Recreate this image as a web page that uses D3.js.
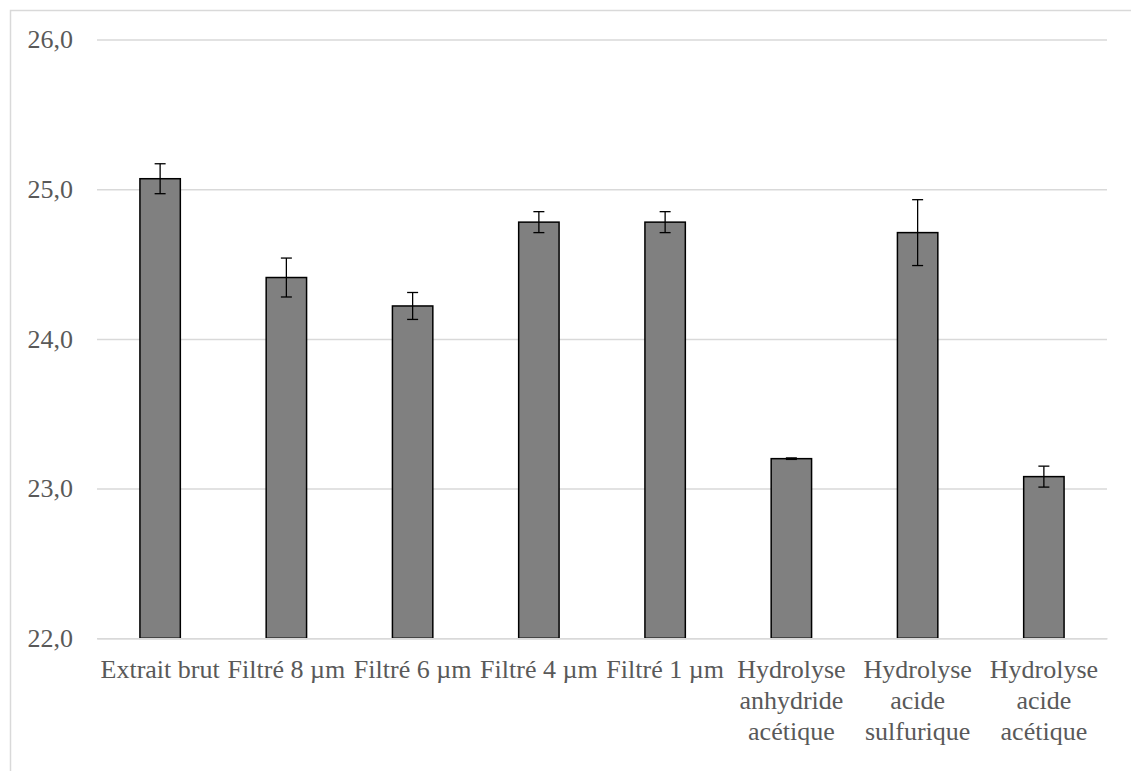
<!DOCTYPE html>
<html>
<head>
<meta charset="utf-8">
<script src="https://cdn.jsdelivr.net/npm/d3@7"></script>
<style>
  html, body { margin: 0; padding: 0; background: #fff; }
  svg { display: block; }
  svg text { font-family: "Liberation Serif", "Times New Roman", Times, serif; }
</style>
</head>
<body>
<svg id="chart" width="1131" height="771"></svg>
<script>
const categories = [
  "Extrait brut",
  "Filtré 8 µm",
  "Filtré 6 µm",
  "Filtré 4 µm",
  "Filtré 1 µm",
  "Hydrolyse\nanhydride\nacétique",
  "Hydrolyse\nacide\nsulfurique",
  "Hydrolyse\nacide\nacétique"
];
const values = [25.07, 24.41, 24.22, 24.78, 24.78, 23.20, 24.71, 23.08];
const errors = [0.10, 0.13, 0.09, 0.07, 0.07, 0.005, 0.22, 0.07];
const yTicks = [22, 23, 24, 25, 26];

const data = categories.map((c, i) => ({ cat: c, value: values[i], err: errors[i] }));

const svg = d3.select("#chart");
const plot = { left: 97, right: 1107, top: 39.5, bottom: 638.3 };
const textColor = "#595959";
const gridColor = "#d9d9d9";
const font = "\"Liberation Serif\", \"Times New Roman\", Times, serif";

// outer chart border
svg.append("rect")
  .attr("x", 10.5).attr("y", 10.5)
  .attr("width", 1135).attr("height", 775)
  .attr("fill", "#fff")
  .attr("stroke", gridColor).attr("stroke-width", 1.5);

const x = d3.scaleBand()
  .domain(categories)
  .range([plot.left, plot.right])
  .paddingInner(0.68)
  .paddingOuter(0.34);

const y = d3.scaleLinear()
  .domain([22, 26])
  .range([plot.bottom, plot.top]);

const locale = d3.formatLocale({ decimal: ",", thousands: " ", grouping: [3], currency: ["", "€"] });
const fmt = locale.format(".1f");

// gridlines + y labels via axis
const yAxis = d3.axisLeft(y)
  .tickValues(yTicks)
  .tickSize(-(plot.right - plot.left))
  .tickPadding(24)
  .tickFormat(fmt);

const gy = svg.append("g")
  .attr("transform", `translate(${plot.left},0)`)
  .call(yAxis);
gy.attr("font-family", null);
gy.select(".domain").remove();
gy.selectAll(".tick line").attr("stroke", gridColor).attr("stroke-width", 1.5);
gy.selectAll(".tick text")
  .attr("fill", textColor)
  .style("font-family", font)
  .style("font-size", "26px");

// bars
svg.append("g").selectAll("rect")
  .data(data)
  .join("rect")
  .attr("x", d => x(d.cat))
  .attr("y", d => y(d.value))
  .attr("width", x.bandwidth())
  .attr("height", d => y(22) - y(d.value))
  .attr("fill", "#808080")
  .attr("stroke", "#000")
  .attr("stroke-width", 1.5);

// error bars
const eg = svg.append("g").attr("stroke", "#000").attr("stroke-width", 1.3);
const cap = 5.5;
data.forEach(d => {
  const cx = x(d.cat) + x.bandwidth() / 2;
  const y1 = y(d.value + d.err), y2 = y(d.value - d.err);
  eg.append("line").attr("x1", cx).attr("x2", cx).attr("y1", y1).attr("y2", y2);
  eg.append("line").attr("x1", cx - cap).attr("x2", cx + cap).attr("y1", y1).attr("y2", y1);
  eg.append("line").attr("x1", cx - cap).attr("x2", cx + cap).attr("y1", y2).attr("y2", y2);
});

// x axis
const xAxis = d3.axisBottom(x).tickSize(0).tickPadding(0);
const gx = svg.append("g")
  .attr("transform", `translate(0,${plot.bottom})`)
  .call(xAxis);
gx.attr("font-family", null);
gx.select(".domain").attr("stroke", gridColor).attr("stroke-width", 1.5);
gx.selectAll(".tick text").each(function(d) {
  const t = d3.select(this);
  t.text(null)
    .attr("fill", textColor)
    .style("font-family", font)
    .style("font-size", "26px")
    .attr("y", 0)
    .attr("dy", null);
  d.split("\n").forEach((line, i) => {
    t.append("tspan")
      .attr("x", 0)
      .attr("y", 40 + i * 31)
      .text(line);
  });
});
</script>
</body>
</html>
